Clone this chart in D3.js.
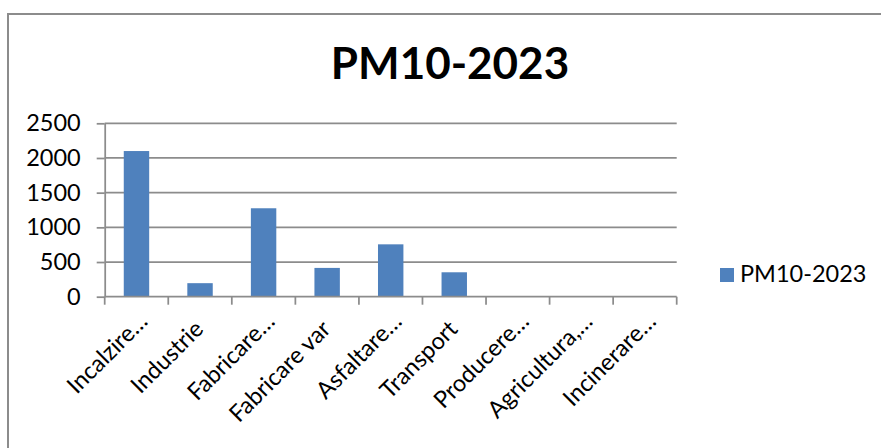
<!DOCTYPE html>
<html>
<head>
<meta charset="utf-8">
<script src="https://cdn.jsdelivr.net/npm/d3@7"></script>
<style>
  html, body { margin: 0; padding: 0; background: #fff; }
  svg { display: block; }
</style>
</head>
<body>
<svg id="chart" width="881" height="448"></svg>
<script>
// PM10 emissions by source, 2023
const categories = [
  "Incalzire…", "Industrie", "Fabricare…", "Fabricare var", "Asfaltare…",
  "Transport", "Producere…", "Agricultura,…", "Incinerare…"
];
const values = [2100, 195, 1275, 415, 755, 352, 0, 8, 0];
const seriesName = "PM10-2023";
const yTicks = [0, 500, 1000, 1500, 2000, 2500];

const svg = d3.select("#chart");
const gridColor = "#8c8c8c";
const barColor = "#4f81bd";
const labelFont = "Lato, 'Open Sans', sans-serif";
const labelSize = 23.5;

// chart frame (extends past the right and bottom edges)
svg.append("rect")
  .attr("x", 8).attr("y", 14)
  .attr("width", 900).attr("height", 460)
  .attr("fill", "#fff")
  .attr("stroke", gridColor).attr("stroke-width", 2);

// title
svg.append("text")
  .attr("x", 450).attr("y", 79)
  .attr("text-anchor", "middle")
  .attr("font-family", labelFont)
  .attr("font-weight", "bold")
  .attr("font-size", 44)
  .attr("fill", "#000")
  .text(seriesName);

const plot = { left: 104.7, right: 676.7, top: 123.3, bottom: 296.7 };

const x = d3.scaleBand()
  .domain(categories)
  .range([plot.left, plot.right])
  .paddingInner(0.6)
  .paddingOuter(0.3);

const y = d3.scaleLinear()
  .domain([0, 2500])
  .range([plot.bottom, plot.top]);

// horizontal gridlines
svg.append("g")
  .selectAll("line")
  .data(yTicks.filter(d => d > 0))
  .join("line")
  .attr("x1", plot.left).attr("x2", plot.right)
  .attr("y1", d => y(d)).attr("y2", d => y(d))
  .attr("stroke", gridColor).attr("stroke-width", 1.75);

// bars
svg.append("g")
  .selectAll("rect")
  .data(values.map((v, i) => ({ cat: categories[i], v })))
  .join("rect")
  .attr("x", d => x(d.cat))
  .attr("width", x.bandwidth())
  .attr("y", d => y(d.v))
  .attr("height", d => y(0) - y(d.v))
  .attr("fill", barColor);

// y axis
const yAxis = svg.append("g")
  .attr("transform", `translate(${plot.left},0)`)
  .call(d3.axisLeft(y).tickValues(yTicks).tickFormat(d3.format("d"))
    .tickSize(8).tickPadding(16).tickSizeOuter(0));
yAxis.select(".domain").attr("stroke", gridColor).attr("stroke-width", 1.75);
yAxis.selectAll(".tick line").attr("stroke", gridColor).attr("stroke-width", 1.75);
yAxis.selectAll(".tick text")
  .attr("font-family", labelFont).attr("font-size", labelSize).attr("fill", "#000");

// x axis: tick marks at category boundaries
const step = x.step();
const boundaries = d3.range(categories.length + 1).map(i => plot.left + i * step);
const xAxis = svg.append("g");
xAxis.append("line")
  .attr("x1", plot.left).attr("x2", plot.right)
  .attr("y1", plot.bottom).attr("y2", plot.bottom)
  .attr("stroke", gridColor).attr("stroke-width", 1.75);
xAxis.selectAll("line.tick")
  .data(boundaries)
  .join("line")
  .attr("class", "tick")
  .attr("x1", d => d).attr("x2", d => d)
  .attr("y1", plot.bottom).attr("y2", plot.bottom + 8)
  .attr("stroke", gridColor).attr("stroke-width", 1.75);

// rotated category labels; truncated labels run a little further along the slant
xAxis.selectAll("text")
  .data(categories)
  .join("text")
  .attr("transform", d => `translate(${x(d) + x.bandwidth() / 2 - 1},${plot.bottom + 28}) rotate(-45)`)
  .attr("text-anchor", "end")
  .attr("dx", d => d.endsWith("…") ? 11 : 0)
  .attr("dy", "0.35em")
  .attr("font-family", labelFont).attr("font-size", labelSize).attr("fill", "#000")
  .text(d => d);

// legend
const legend = svg.append("g");
legend.append("rect")
  .attr("x", 720).attr("y", 268).attr("width", 14).attr("height", 14)
  .attr("fill", barColor);
legend.append("text")
  .attr("x", 740).attr("y", 282)
  .attr("font-family", labelFont).attr("font-size", labelSize).attr("fill", "#000")
  .text(seriesName);
</script>
</body>
</html>
